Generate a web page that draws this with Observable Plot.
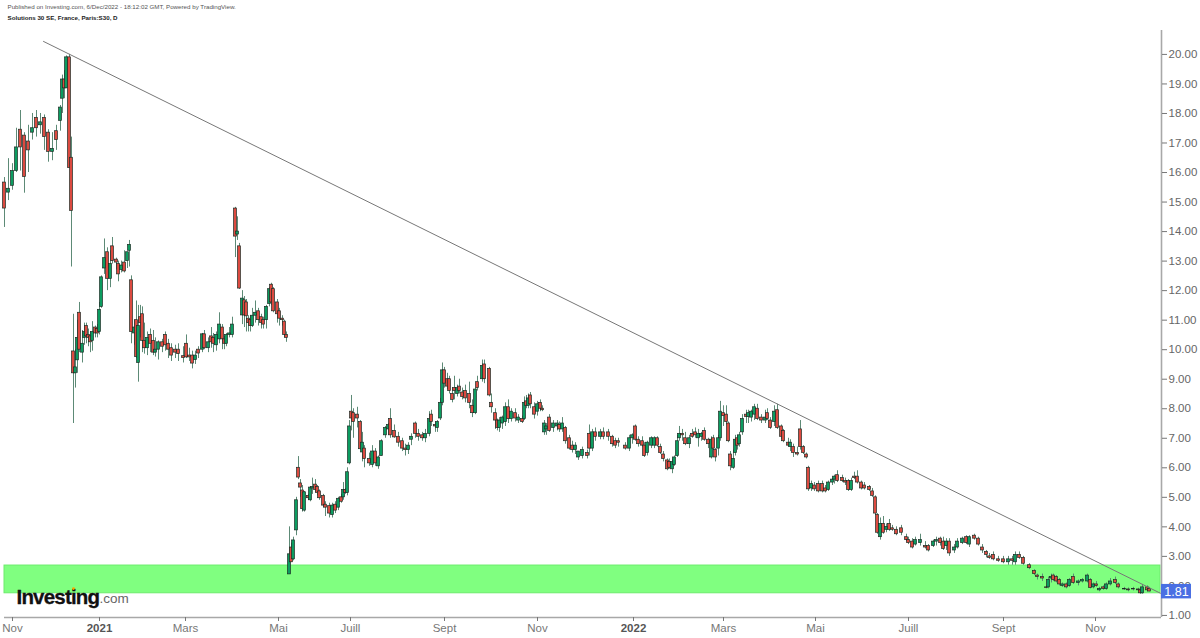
<!DOCTYPE html>
<html><head><meta charset="utf-8">
<script src="https://cdn.jsdelivr.net/npm/d3@7"></script>
<script src="https://cdn.jsdelivr.net/npm/@observablehq/plot@0.6"></script>
<style>html,body{margin:0;padding:0;background:#fff}svg{display:block}</style>
</head><body><div id="chart"></div>
<script>
// rows: [session, open, high, low, close]
const nov2020 = [[0,15.66,15.83,14.14,14.78],[2,15.32,16.47,15.05,15.45],[4,15.55,16.3,15.4,16.05],[6,16.05,17.5,16,16.85],[8,17.45,18.1,16.05,16.85],[10,17.25,17.35,15.3,15.85],[12,17.05,17.6,16,16.75],[14,17.35,18,17.1,17.5],[16,17.85,18.1,17.2,17.5],[18,17.6,18,17.3,17.7],[20,17.85,17.95,16.75,17.2],[22,17.35,17.45,16.35,16.7],[24,16.7,17.35,16.4,16.8],[26,17.4,17.6,16.75,17.1],[28,17.75,18.27,17.4,18.2],[29,18.5,19.3,18,19.15],[30,19.15,19.45,18.5,18.85],[31,18.85,19.95,18.85,19.9],[32.5,19.9,20,16.15,16.15],[33.5,16.5,17.2,12.8,14.7]];
const jan2021 = [[34.5,9.94,11.2,7.5,9.2],[35.5,9.2,10,8.7,9.4],[36.5,9.64,11,9.2,10.4],[37.5,11.25,11.6,9.9,10],[39,9.9,10.65,9.55,10.2],[40,10.4,10.9,10.15,10.6],[41,10.8,10.9,10.2,10.45],[42,10.5,10.7,10.1,10.4],[43,10.45,10.6,9.9,10.25],[44,10.3,10.95,9.95,10.6],[45.5,10.75,10.8,10.4,10.55],[46.5,10.7,10.85,10.4,10.55],[47.5,10.6,11.6,10.5,11.35],[48.5,11.45,12.5,11.4,12.45],[50,12.75,13.75,12.55,13.1],[51.5,13.3,13.45,12,12.4],[53,12.4,13.35,12.1,12.9],[54,13.5,13.8,12.9,13],[56,13.05,13.1,12.7,12.95],[57,12.9,13,12.3,12.55],[58.5,12.7,13,12.6,12.85],[60,12.95,13.35,12.6,12.65],[61.5,13,13.3,12.75,13.3],[62.5,13.35,13.7,12.8,13.55]];
const mar2021 = [[63.5,12.35,12.5,10.2,10.6],[65,10.55,11,10.15,10.75],[66,11,11.65,9.7,9.75],[67,9.55,11.5,8.9,10.8],[68,11.1,11.5,10.4,10.9],[69,11.2,11.45,9.9,10.3],[70,10.3,10.9,9.85,10.05],[71.5,10.05,10.6,9.8,10.4],[73,10.5,10.7,9.9,10.2],[74.5,10.3,10.65,9.8,9.9],[75.5,9.9,10.4,9.75,10],[77,10,10.3,9.65,10.25],[79,10.25,10.35,9.9,10.1],[80.5,10.5,10.6,9.95,10.15],[82,10.2,10.35,9.7,10],[83.5,10.05,10.2,9.6,9.8],[85.5,10,10.15,9.7,9.9],[87,10,10.2,9.6,9.85],[89.5,9.78,10.1,9.55,9.72],[91,10.2,10.5,9.7,9.74],[92.5,9.8,10.05,9.6,9.74],[94,9.8,9.95,9.35,9.53],[95.5,9.65,9.95,9.5,9.8],[97,10,10.1,9.7,9.87],[99,10,10.55,9.9,10.52],[100,10.52,10.65,10,10.05],[102,10.05,10.4,9.9,10.25],[103.5,10.45,10.75,10.05,10.25],[104.5,10.4,10.55,9.9,10.2],[106,10.15,10.6,9.95,10.5],[107.5,10.35,11.25,10.2,10.85],[109,10.75,10.85,10,10.35],[110,10.35,10.45,10,10.2],[111,10.2,10.55,10.1,10.5],[112.5,10.5,10.75,10.4,10.55],[114,10.5,11.1,10.4,10.85]];
const apr2021 = [[115.5,14.78,14.82,13.12,13.83],[116.5,13.9,14.5,13.7,14],[117.5,13.5,13.6,12.04,12.07],[119,11.16,12,10.85,11.73],[120,11.67,11.8,10.75,11.16],[121,11.6,11.7,10.6,11.13],[122,11.05,11.15,10.6,10.9],[123,11,11.15,10.6,10.8],[124,10.8,11.4,10.75,11.15],[125.5,11.15,11.65,10.9,11.25],[127,11.3,11.4,10.8,11],[128.5,11.1,11.2,10.7,10.9],[129.5,11,11.1,10.7,10.85],[131,11,11.5,10.7,11.45],[132.5,11.55,12.1,11.45,12.05],[133.5,12.2,12.25,11.5,11.6],[134.5,12.05,12.1,11.25,11.3],[136.5,11.6,11.7,10.9,11.2],[137.5,11.3,11.4,10.8,11.05],[139,11.05,11.15,10.8,11],[140,10.95,11,10.4,10.5],[141,10.5,10.6,10.25,10.4]];
const may2021 = [[142.5,2.39,4,2.39,3.07],[143.5,3.3,3.45,2.8,2.8],[144.5,2.9,3.65,2.85,3.54],[146,3.88,5,3.7,4.9],[147,6,6.38,5.6,5.67],[148,5.47,5.6,5,5.33],[149,5.23,5.4,4.5,4.6],[150,4.55,5.2,4.5,5.17],[152,5.05,5.1,4.9,4.97],[153,4.9,5.35,4.85,5.33],[154,5.3,5.65,5.1,5.35],[155.5,5.43,5.6,5.15,5.25],[156.5,5.35,5.4,5.05,5.15],[157.5,5.2,5.25,4.9,4.97],[159.5,5.05,5.1,4.65,4.72],[160.5,4.75,4.85,4.35,4.65],[162.5,4.7,4.8,4.3,4.45],[164,4.4,4.8,4.3,4.72],[165.5,4.75,4.85,4.45,4.55],[167,4.65,5,4.55,4.95],[168.5,5,5.1,4.8,4.85],[169.5,5,5.5,4.9,5.25],[170.5,5.25,5.3,5.1,5.15],[171.5,5.15,6,5.05,5.85]];
const jul2021 = [[172.5,6.15,7.6,6.1,7.4],[173.5,7.9,8.45,7.25,7.67],[174.5,7.85,8,7,7.55],[176.5,7.8,8.05,7.35,7.67],[178,7.55,7.6,6.6,6.63],[179,6.52,7.2,6.2,6.85],[180,6.65,6.75,6,6.3],[182.5,6.3,6.5,6.05,6.15],[184,6.1,6.75,6,6.55],[185.5,6.55,6.65,6.05,6.15],[187,6.05,6.4,5.95,6.35],[188.5,6.4,6.95,6.4,6.9],[190.5,7.1,7.4,7,7.35],[192,7.3,7.5,7.1,7.45],[193,7.65,8,7,7.1],[195,7.25,7.45,7,7.03],[197,7.05,7.2,6.7,6.85],[199,6.9,7,6.55,6.65],[200.5,6.65,6.8,6.4,6.6],[202,6.6,6.85,6.45,6.75],[203.5,6.95,7.15,6.75,7.05],[205.5,7.5,7.55,7,7.15],[207,7.15,7.3,6.9,7.05],[209,7.1,7.2,6.9,7],[210.5,7,7.3,6.85,7.15],[212.5,7.15,7.9,7.05,7.65],[213.5,7.8,7.95,7.4,7.55],[215.5,7.45,7.55,7.2,7.4],[216.5,7.35,7.6,7.2,7.55],[218,7.67,8.35,7.6,8.2]];
const sep2021 = [[219,8.2,9.55,8.1,9.3],[220,9.3,9.4,8.7,8.85],[221.5,9,9.2,8.65,8.75],[222.5,9,9.1,8.5,8.6],[224,8.5,8.7,8.2,8.3],[225,8.7,9.1,8.3,8.6],[226.5,8.5,8.8,8.4,8.7],[227.5,8.75,9,8.5,8.6],[229,8.55,8.7,8.3,8.4],[230.5,8.6,8.8,8.2,8.35],[232.5,8.5,8.9,8,8.2],[234,8.1,8.3,7.7,7.85],[235.5,7.85,8.7,7.8,8.65],[236.5,8.9,9.1,8.6,8.7],[239,9,9.65,8.9,9.45],[240,9.5,9.65,8.85,9],[242.5,9.35,9.4,8.4,8.45],[243.5,8.2,8.5,7.85,8.05],[245.5,7.85,8,7.3,7.6],[246.5,7.6,7.65,7.25,7.35],[247.5,7.35,7.7,7.2,7.6],[249,7.5,7.75,7.3,7.7],[250.5,7.55,8.2,7.4,8.05],[252,8.05,8.3,7.5,7.65],[253.5,7.65,8,7.55,7.9],[255.5,7.85,8,7.55,7.67],[257,7.6,7.8,7.5,7.7],[259,7.65,7.75,7.5,7.55],[260,7.65,8.4,7.6,8.2],[261,8.25,8.45,8,8.1],[262,8.1,8.5,8,8.35],[263,8.45,8.55,8,8.15],[265,8.05,8.2,7.65,7.8]];
const nov2021 = [[266.5,7.9,8.25,7.75,8.15],[268,8.2,8.3,7.9,8],[269,8,8.1,7.9,7.95],[270,7.2,7.6,7.1,7.5],[271,7.3,7.5,7.1,7.4],[272.5,7.7,7.8,7.2,7.25],[274.5,7.35,7.6,7.2,7.5],[276.5,7.4,7.6,7.25,7.5],[277.5,7.45,7.55,7.2,7.3],[279,7.3,7.7,7.2,7.5],[280.5,7.35,7.4,6.8,6.9],[282.5,7,7.1,6.6,6.65],[284,6.75,6.9,6.5,6.6],[285.5,6.6,6.85,6.45,6.75],[287,6.35,6.55,6.25,6.55],[289,6.4,6.7,6.3,6.6],[291.5,6.5,6.6,6.3,6.4],[292.5,7.15,7.45,6.4,6.65],[294,6.65,7.3,6.55,7.2],[295.5,7.2,7.35,6.9,7.05],[298,7.05,7.3,6.95,7.2],[299.5,7.2,7.35,6.95,7.05],[302,7.2,7.3,6.9,7.05],[304,7.05,7.1,6.7,6.8],[305.5,6.9,7,6.65,6.75],[307,6.9,7,6.7,6.85],[310.5,6.75,6.85,6.6,6.65],[312.5,6.65,7.1,6.55,7]];
const jan2022 = [[314,7,7.15,6.8,7.1],[315.5,7.4,7.45,6.9,6.95],[317,6.95,7.05,6.7,6.8],[319,6.9,7.05,6.7,6.75],[320,6.75,6.85,6.35,6.4],[321.5,6.5,6.9,6.4,6.85],[323.5,6.75,7.05,6.65,7],[325,6.75,7.05,6.65,7],[326.5,7,7.05,6.7,6.75],[328,6.7,6.8,6.45,6.5],[329.5,6.45,6.55,6.2,6.3],[331.5,6.25,6.3,5.9,5.95],[332.5,6.2,6.3,5.95,6],[334,5.95,6.3,5.8,6.2],[335,6.1,6.4,6.05,6.35],[336.5,6.4,7.1,6.35,6.9],[337.5,7,7.4,6.9,7.15],[339,7.15,7.3,6.9,7.1],[340.5,7,7.2,6.75,6.8],[342.5,6.8,7.1,6.65,7],[344,7.15,7.3,7,7.05],[345.5,7.2,7.35,7,7.1],[347,7,7.3,6.7,7.15],[348.5,7.05,7.2,6.9,7.15],[350,7.25,7.35,6.9,6.95],[352,6.95,7,6.65,6.8],[353.5,6.35,7.05,6.3,6.95],[354.5,7,7.1,6.6,6.65],[355.5,6.6,6.65,6.2,6.35],[357,6.65,7.1,6.4,7]];
const mar2022 = [[358,7,8.25,6.9,7.9],[359.5,7.85,8.1,7.4,7.75],[361,7.8,8.1,7.45,7.55],[362,7.5,7.55,6.85,6.9],[363,6.45,6.55,5.9,6.05],[364.5,6,6.6,5.95,6.3],[365.5,6.5,7.1,6.4,6.95],[366.5,7,7.1,6.6,6.75],[367.5,6.8,7.2,6.7,7.1],[369,7.2,7.8,7.1,7.65],[371,7.8,7.95,7.5,7.72],[372,7.72,7.95,7.5,7.85],[373.5,7.7,7.95,7.55,7.9],[375,7.8,8.15,7.6,8.05],[376.5,8,8.15,7.6,7.65],[378.5,7.7,7.8,7.5,7.6],[380.5,7.6,7.95,7.5,7.7],[381.5,7.85,8,7.6,7.65],[383,7.6,7.7,7.3,7.35],[385,7.55,8.1,7.4,7.9],[386.5,7.95,8.15,7.3,7.35],[388.5,7.4,7.45,6.95,7.05],[389.5,7.25,7.3,6.85,6.9],[392,6.85,7,6.7,6.75],[393,6.7,6.95,6.55,6.85],[394.5,6.7,6.8,6.35,6.5],[396.5,6.5,6.7,6.4,6.45],[398,7.3,7.6,6.6,6.7],[399.5,6.7,6.75,6.45,6.5],[401,6.45,6.5,6.3,6.35]];
const may2022 = [[402,6,6.05,5.2,5.27],[403.5,5.3,5.55,5.2,5.45],[405,5.4,5.5,5.2,5.27],[407,5.45,5.55,5.15,5.2],[409,5.45,5.55,5.15,5.2],[410.5,5.3,5.4,5.15,5.2],[412,5.25,5.55,5.2,5.5],[414,5.5,5.65,5.4,5.6],[415,5.6,5.75,5.45,5.7],[416.5,5.75,5.9,5.5,5.55],[419,5.65,5.75,5.5,5.55],[420.5,5.55,5.65,5.4,5.5],[422,5.55,5.6,5.2,5.25],[423.5,5.25,5.65,5.2,5.55],[425,5.7,5.85,5.6,5.65],[426.5,5.7,5.9,5.45,5.5],[428.5,5.5,5.55,5.25,5.3],[430,5.4,5.5,5.25,5.3],[432.5,5.35,5.4,5.2,5.25],[434,5.2,5.3,5,5.05],[435.5,5,5.05,4.4,4.45],[436.5,4.4,4.45,3.75,3.8],[438,3.65,4.3,3.55,4.1],[439.5,4.1,4.35,3.75,3.8],[441,3.9,4.1,3.8,4],[442.5,4.1,4.25,3.85,3.9],[444,3.95,4.05,3.85,3.9],[446,3.9,4,3.7,3.75],[448.5,3.95,4.05,3.7,3.8],[451,3.65,3.75,3.5,3.55]];
const jul2022 = [[452,3.55,3.65,3.4,3.45],[454,3.5,3.6,3.25,3.3],[455.5,3.4,3.65,3.35,3.55],[458,3.45,3.75,3.35,3.55],[460.5,3.35,3.5,3.25,3.3],[462,3.35,3.4,3.15,3.2],[464.5,3.35,3.55,3.3,3.5],[466,3.5,3.65,3.35,3.55],[468,3.6,3.65,3.35,3.45],[469.5,3.5,3.65,3.2,3.25],[471,3.35,3.6,3.2,3.5],[472.5,3.5,3.6,3,3.1],[475,3.2,3.4,3.1,3.3],[476.5,3.3,3.6,3.25,3.5],[479,3.45,3.65,3.4,3.6],[481,3.65,3.7,3.4,3.45],[482.5,3.4,3.7,3.3,3.65],[485,3.7,3.75,3.55,3.6],[487,3.6,3.65,3.35,3.4],[489,3.3,3.4,3.1,3.2],[491,3.15,3.2,2.95,3.05],[492.5,3,3.1,2.9,2.95],[494.5,3.05,3.15,2.85,2.9],[497,2.9,3,2.8,2.85]];
const sep2022 = [[499.5,2.9,3,2.75,2.8],[502,2.8,3,2.7,2.9],[504,2.9,3,2.7,2.85],[505.5,2.8,3.15,2.7,3.05],[507.5,3.05,3.15,2.9,2.95],[509.5,2.95,3,2.7,2.75],[512.5,2.7,2.75,2.55,2.6],[515,2.5,2.55,2.35,2.4],[516.5,2.35,2.4,2.2,2.3],[519,2.3,2.4,2.15,2.25],[521,1.95,2,1.9,1.93],[522,1.95,2.3,1.9,2.2],[523.5,2.25,2.4,2.1,2.3],[524.5,2.35,2.4,2.15,2.2],[526,2.3,2.35,2.1,2.15],[527.5,2.2,2.25,2,2.05],[529,2,2.1,1.95,2.05],[531,2.05,2.1,1.9,1.95],[532.5,2,2.25,1.95,2.2],[534.5,2.3,2.4,2.05,2.1],[537,2.1,2.2,2,2.15],[539,2.15,2.25,2.1,2.2],[541.5,2.15,2.4,2.1,2.35],[543,2.2,2.25,1.9,1.93]];
const nov2022 = [[544.5,1.95,2.1,1.9,2.05],[546,2.05,2.15,1.95,2],[547.5,1.85,1.95,1.8,1.9],[549.5,1.95,2,1.85,1.9],[551,1.9,2.1,1.85,2.05],[553,2.05,2.25,2,2.15],[555.5,2.2,2.3,2.05,2.1],[557,2.05,2.1,1.9,1.95],[560,1.9,1.95,1.85,1.88],[562,1.88,1.93,1.8,1.85],[564.5,1.9,1.95,1.83,1.88],[567,1.88,1.92,1.8,1.85],[568,1.85,1.9,1.72,1.75],[569,1.75,2.05,1.72,1.95],[571.5,1.95,2,1.8,1.85],[572.5,1.9,1.95,1.8,1.81]];

const monthTicks = [4,90.5,137,173,220,266.5,359.5,405.5,452,499.5,545.5];
const monthLabels = ["Nov","Mars","Mai","Juill","Sept","Nov","Mars","Mai","Juill","Sept","Nov"];
const yearTicks = [47.5,314.5];
const yearLabels = ["2021","2022"];
const priceTicks = [1,2,3,4,5,6,7,8,9,10,11,12,13,14,15,16,17,18,19,20];
const trendSessions = [19.5,578];
const trendPrices = [20.44,1.75];
const zoneLow = 1.75, zoneHigh = 2.69;
const lastPrice = 1.81;

const candles = [nov2020,jan2021,mar2021,apr2021,may2021,jul2021,sep2021,nov2021,jan2022,mar2022,may2022,jul2022,sep2022,nov2022]
  .flat().map(([s,o,h,l,c]) => ({s,o,h,l,c}));
const xMax = 578.5;
const font = "'Liberation Sans', Arial, sans-serif";

const chart = Plot.plot({
  width: 1200, height: 638,
  marginLeft: 4, marginRight: 39, marginTop: 30, marginBottom: 21,
  style: {background: "#fff", fontFamily: font, overflow: "visible"},
  x: {domain: [0, xMax], range: [4, 1161], axis: null},
  y: {domain: [0.93, 20.81], range: [617, 30], axis: null},
  color: {type: "identity"},
  marks: [
    Plot.rect([0], {x1: 0, x2: 578, y1: zoneLow, y2: zoneHigh, fill: "#80ff80", stroke: "#6cec6c", strokeWidth: 1}),
    Plot.text(["Investing"], {x: [6], y: [1.62], text: d => d, textAnchor: "start", fontSize: 20.5, fontWeight: 700, fill: "#111", stroke: "#111", strokeWidth: 0.3, className: "logo-word"}),
    Plot.text([".com"], {x: [47.5], y: [1.58], text: d => d, textAnchor: "start", fontSize: 13.5, fill: "#666"}),
    Plot.dot([0], {x: [34.5], y: [1.91], r: 1.4, fill: "#f7a600"}),
    Plot.ruleX(candles, {x: "s", y1: "l", y2: "h", stroke: "#5d8a76", strokeWidth: 1}),
    Plot.rect(candles, {x1: d => d.s - 0.72, x2: d => d.s + 0.72, y1: "o", y2: "c",
      fill: d => d.c >= d.o ? "#0c9c60" : "#dc4a40", stroke: "#1c2b24", strokeWidth: 0.7}),
    Plot.line(trendSessions.map((s,i) => ({s, p: trendPrices[i]})), {x: "s", y: "p", stroke: "#777", strokeWidth: 1}),
    Plot.ruleX([xMax], {y1: 0.93, y2: 20.81, stroke: "#a8a8a8", strokeWidth: 1.6}),
    Plot.ruleY([0.93], {x1: 0, x2: xMax, stroke: "#a8a8a8", strokeWidth: 1.6}),
    Plot.axisY(priceTicks, {anchor: "right", tickSize: 5, tickPadding: 2, stroke: "#777", fill: "#666", fontSize: 11.5, tickFormat: d => d.toFixed(2), label: null}),
    Plot.axisX(monthTicks, {anchor: "bottom", tickSize: 4, tickPadding: 2, stroke: "#777", fill: "#777", fontSize: 11.5, label: null, tickFormat: d => monthLabels[monthTicks.indexOf(d)]}),
    Plot.axisX(yearTicks, {anchor: "bottom", tickSize: 4, tickPadding: 2, stroke: "#777", fill: "#555", fontSize: 11.5, fontWeight: 700, label: null, tickFormat: d => yearLabels[yearTicks.indexOf(d)]}),
    Plot.rect([0], {x1: xMax, x2: 593.5, y1: 1.56, y2: 2.05, fill: "#4a6fe3"}),
    Plot.text([lastPrice], {x: [586], y: [1.81], text: d => d.toFixed(2), fill: "#fff", fontSize: 12.5, fontWeight: 500}),
    Plot.text(["Published on Investing.com, 6/Dec/2022 - 18:12:02 GMT, Powered by TradingView."], {frameAnchor: "top-left", text: d => d, dx: 3, dy: -25.5, fontSize: 6.2, fill: "#555"}),
    Plot.text(["Solutions 30 SE, France, Paris:S30, D"], {frameAnchor: "top-left", text: d => d, dx: 3, dy: -14.8, fontSize: 6.2, fontWeight: 700, fill: "#222"})
  ]
});
d3.select(chart).selectAll(".logo-word text").style("letter-spacing", "-0.8px");
document.getElementById("chart").append(chart);
</script></body></html>
